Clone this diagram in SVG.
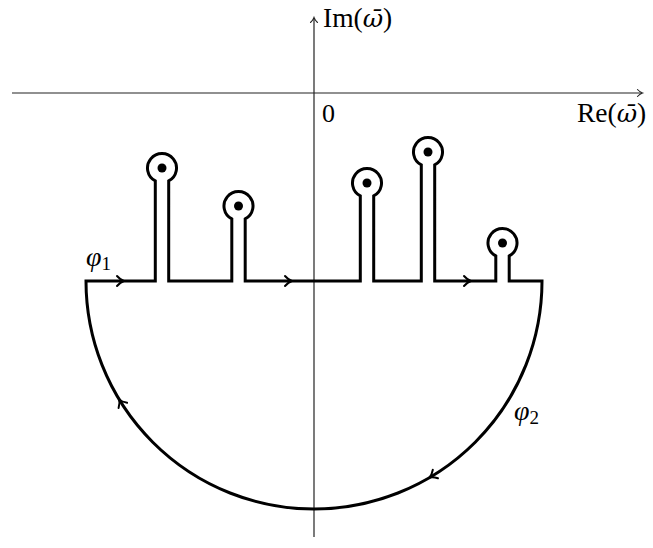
<svg xmlns="http://www.w3.org/2000/svg" width="653" height="548" viewBox="0 0 653 548">
<style>
.axis{stroke:#222;stroke-width:1.2;fill:none}
.ahead{stroke:#222;stroke-width:1.1;fill:none;stroke-linecap:round}
.contour{stroke:#000;stroke-width:3;fill:none;stroke-linejoin:miter}
.chev{stroke:#000;stroke-width:2;fill:none;stroke-linecap:round}
.pole{fill:#000}
text{font-family:"Liberation Serif","DejaVu Serif",serif;fill:#000}
.lbl{font-size:27.5px}
.zero{font-size:26px}
.om{font-family:"DejaVu Serif",serif;font-style:italic;font-size:25px}
.sym{font-size:28px;font-style:italic}
.sub{font-size:19px}
</style>
<defs>
<path id="chev" d="M-5,-5 Q-1.5,-1 2,0 Q-1.5,1 -5,5"/>
<path id="achev" d="M-3.5,-3.5 Q-1,-0.8 1.5,0 Q-1,0.8 -3.5,3.5"/>
</defs>
<g id="axes">
<line class="axis" x1="12" y1="93" x2="641" y2="93"/>
<use href="#achev" class="ahead" transform="translate(641,93)"/>
<line class="axis" x1="314" y1="537" x2="314" y2="19"/>
<use href="#achev" class="ahead" transform="translate(314,19) rotate(-90)"/>
<text class="lbl" x="323" y="27">Im(<tspan class="om">ω̄</tspan>)</text>
<text class="lbl" x="577" y="122">Re(<tspan class="om">ω̄</tspan>)</text>
<text class="zero" x="322" y="122">0</text>
</g>
<g id="contour">
<path class="contour" d="M87,281 H155.3 V180.9 A14.5,14.5 0 1 1 168.7,180.9 V281 H231.8 V218.9 A14.5,14.5 0 1 1 245.2,218.9 V281 H360.3 V195.9 A14.5,14.5 0 1 1 373.7,195.9 V281 H421.3 V164.9 A14.5,14.5 0 1 1 434.7,164.9 V281 H495.8 V255.9 A14.5,14.5 0 1 1 509.2,255.9 V281 H542 A228,228 0 0 1 86,281 Z"/>
</g>
<g id="poles">
<circle class="pole" cx="162" cy="168" r="4.5"/>
<circle class="pole" cx="238.5" cy="206" r="4.5"/>
<circle class="pole" cx="367" cy="183" r="4.5"/>
<circle class="pole" cx="428" cy="152" r="4.5"/>
<circle class="pole" cx="502.5" cy="243" r="4.5"/>
</g>
<g id="arrows">
<use href="#chev" class="chev" transform="translate(122,281)"/>
<use href="#chev" class="chev" transform="translate(290,281)"/>
<use href="#chev" class="chev" transform="translate(469,281)"/>
<use href="#chev" class="chev" transform="translate(120.2,401.1) rotate(-121.8)"/>
<use href="#chev" class="chev" transform="translate(431.1,476.6) rotate(149.1)"/>
</g>
<g id="labels">
<text class="sym" x="86" y="266">φ<tspan class="sub" font-style="normal" dy="4">1</tspan></text>
<text class="sym" x="514" y="420">φ<tspan class="sub" font-style="normal" dy="4">2</tspan></text>
</g>
</svg>
